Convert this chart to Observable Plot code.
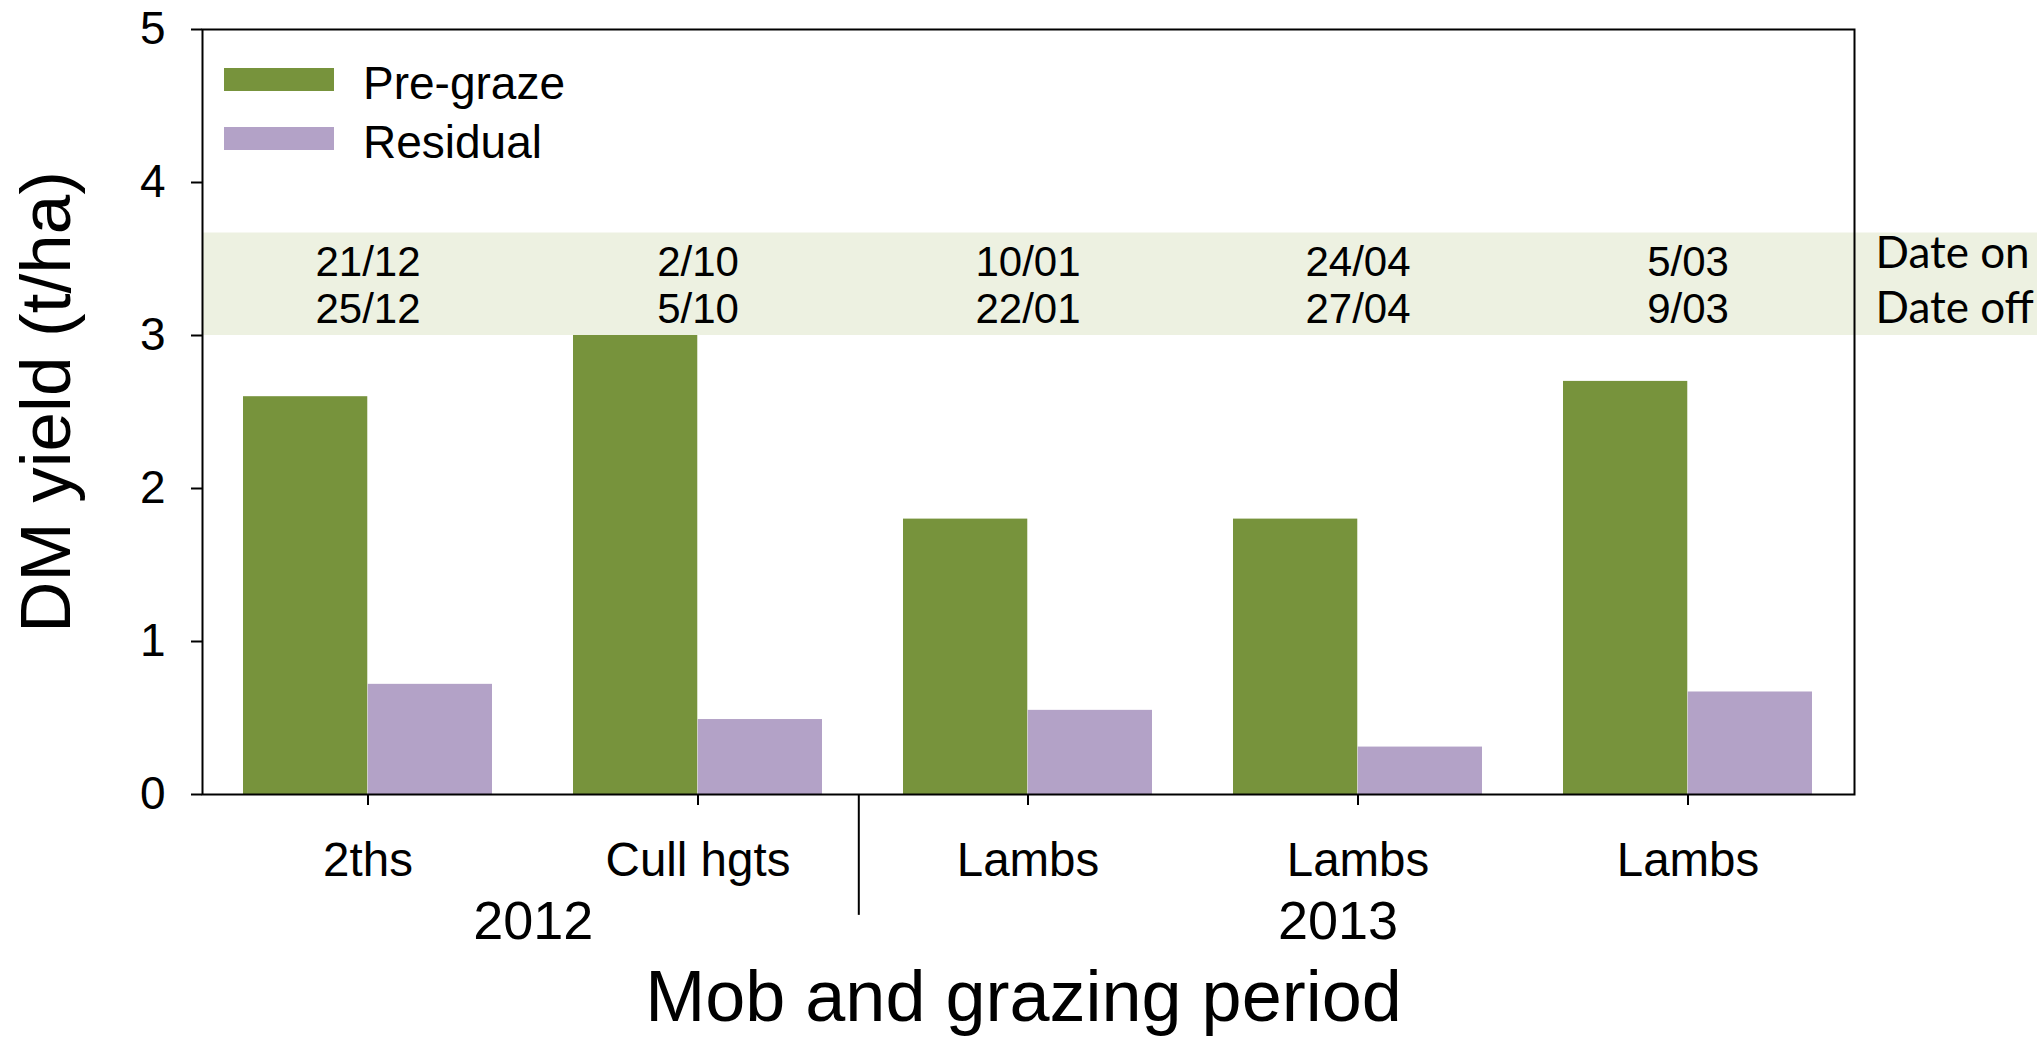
<!DOCTYPE html>
<html>
<head>
<meta charset="utf-8">
<script src="https://cdn.jsdelivr.net/npm/d3@7"></script>
<script src="https://cdn.jsdelivr.net/npm/@observablehq/plot@0.6"></script>
<style>
  html, body { margin: 0; padding: 0; background: #fff; overflow: hidden; }
  #wrap { position: relative; width: 2037px; height: 1037px; font-family: "Liberation Sans", Arial, sans-serif; }
  .sw { position: absolute; width: 110px; height: 23px; }
  .lab { position: absolute; font-size: 46px; line-height: 46px; color: #000; white-space: nowrap; }
</style>
</head>
<body>
<div id="wrap"></div>
<script>
// ---- data ----
const categories = ["0", "1", "2", "3", "4"];
const mobs = ["2ths", "Cull hgts", "Lambs", "Lambs", "Lambs"];
const years = ["2012", "2012", "2013", "2013", "2013"];
const preGraze = [2.6, 3.0, 1.8, 1.8, 2.7];
const residual = [0.72, 0.49, 0.55, 0.31, 0.67];
const dateOn = ["21/12", "2/10", "10/01", "24/04", "5/03"];
const dateOff = ["25/12", "5/10", "22/01", "27/04", "9/03"];
const seriesNames = ["Pre-graze", "Residual"];
const seriesColors = ["#77933c", "#b3a2c7"];
const yTicks = [0, 1, 2, 3, 4, 5];
const dateBand = [3, 3.67];
const dateRowLabels = ["Date on", "Date off"];
const xTitle = "Mob and grazing period";
const yTitle = "DM yield (t/ha)";

// ---- layout ----
const W = 2037, H = 1037;
const mL = 202, mR = 183, mT = 29, mB = 243;
const padInner = 0.245, padOuter = padInner / 2;
const step = (W - mL - mR) / (categories.length - padInner + 2 * padOuter);
const bw = step * (1 - padInner);
const bandMid = (dateBand[0] + dateBand[1]) / 2;

const rows = categories.map((c, i) => ({
  cat: c, mob: mobs[i], year: years[i],
  pre: preGraze[i], res: residual[i], on: dateOn[i], off: dateOff[i]
}));

const firstOfYear = (y) => rows.find(r => r.year === y).cat;

const chart = Plot.plot({
  width: W, height: H,
  marginLeft: mL, marginRight: mR, marginTop: mT, marginBottom: mB,
  style: { fontFamily: '"Liberation Sans", Arial, sans-serif', fontSize: "46px", color: "#000", background: "#fff", overflow: "visible" },
  x: { type: "band", domain: categories, paddingInner: padInner, paddingOuter: padOuter },
  y: { domain: [0, 5] },
  marks: [
    // date band
    Plot.rectY([dateBand], { y1: d => d[0], y2: d => d[1], fill: "#edf1e1", insetRight: -mR }),
    // bars
    Plot.barY(rows, { x: "cat", y: "pre", fill: seriesColors[0], insetRight: bw / 2 }),
    Plot.barY(rows, { x: "cat", y: "res", fill: seriesColors[1], insetLeft: bw / 2 }),
    Plot.frame({ stroke: "#000", strokeWidth: 2 }),
    Plot.axisY({ ticks: yTicks, tickSize: 11, tickPadding: 26, strokeWidth: 2, fontSize: 46, label: null, tickFormat: d => String(d) }),
    Plot.axisX({ tickSize: 11, tickPadding: 37, strokeWidth: 2, fontSize: 47.5, label: null, tickFormat: c => mobs[+c] }),
    // separator between years
    Plot.ruleX([firstOfYear("2013")], { x: d => d, y1: 0, y2: -0.79, dx: -step / 2 - 4, stroke: "#000", strokeWidth: 2 }),
    // year labels
    Plot.text([firstOfYear("2012")], { x: d => d, text: () => "2012", frameAnchor: "bottom", dx: step / 2, dy: 144, lineAnchor: "bottom", fontSize: 54 }),
    Plot.text(["3"], { x: d => d, text: () => "2013", frameAnchor: "bottom", dx: -20, dy: 144, lineAnchor: "bottom", fontSize: 54 }),
    // dates
    Plot.text(rows, { x: "cat", y: () => bandMid, text: d => d.on + "\n" + d.off, fontSize: 42, lineHeight: 1.12, lineAnchor: "middle", dy: 0 }),
    Plot.text([dateRowLabels.join("\n")], { y: () => bandMid, text: d => d, frameAnchor: "right", textAnchor: "start", dx: 21, dy: -6, fontSize: 44, lineHeight: 1.24, lineAnchor: "middle", fontFamily: "Lato, 'Open Sans', sans-serif" }),
    // axis titles
    Plot.text([xTitle], { text: d => d, frameAnchor: "bottom", dx: -5, dy: 226, lineAnchor: "bottom", fontSize: 72 }),
    Plot.text([yTitle], { text: d => d, frameAnchor: "left", textAnchor: "middle", rotate: -90, dx: -133, dy: -10, lineAnchor: "bottom", fontSize: 71 })
  ]
});

const wrap = document.getElementById("wrap");
wrap.appendChild(chart);

// legend (inside plot, top-left)
seriesNames.forEach((name, i) => {
  const sw = document.createElement("div");
  sw.className = "sw";
  sw.style.left = "224px";
  sw.style.top = (68 + 59 * i) + "px";
  sw.style.background = seriesColors[i];
  wrap.appendChild(sw);
  const lab = document.createElement("div");
  lab.className = "lab";
  lab.style.left = "363px";
  lab.style.top = (60 + 59 * i) + "px";
  lab.textContent = name;
  wrap.appendChild(lab);
});
</script>
</body>
</html>
